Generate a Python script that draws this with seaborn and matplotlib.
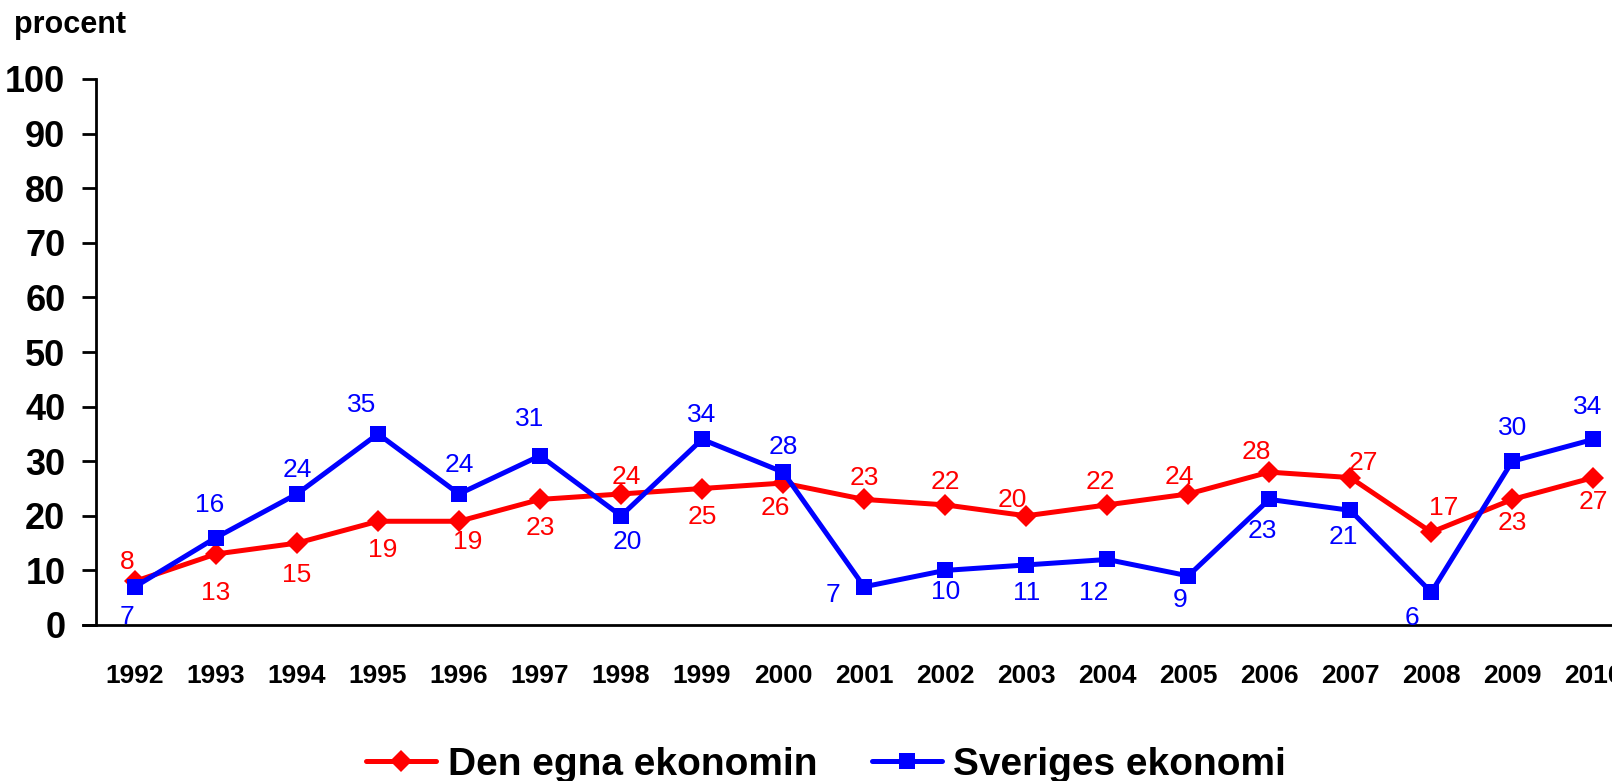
import numpy as np
import pandas as pd
import matplotlib
matplotlib.use("Agg")
import matplotlib.pyplot as plt
import seaborn as sns

# data
years = [str(y) for y in range(1992, 2011)]
egna = [8, 13, 15, 19, 19, 23, 24, 25, 26, 23, 22, 20, 22, 24, 28, 27, 17, 23, 27]
sverige = [7, 16, 24, 35, 24, 31, 20, 34, 28, 7, 10, 11, 12, 9, 23, 21, 6, 30, 34]
y_ticks = [0, 10, 20, 30, 40, 50, 60, 70, 80, 90, 100]

# label offsets in pixels (dx, dy downward) so the numbers sit like in the original
egna_off = [(-8, -19), (0, 39), (0, 32), (5, 29), (9, 21), (0, 29), (5, -17), (0, 29),
            (-8, 25), (0, -21), (0, -23), (-14, -16), (-7, -23), (-9, -17), (-13, -20),
            (13, -15), (12, -24), (0, 24), (0, 24)]
sverige_off = [(-8, 30), (-6, -33), (0, -24), (-16, -29), (0, -29), (-10, -37), (6, 26),
               (0, -24), (0, -25), (-31, 8), (0, 22), (0, 28), (-14, 34), (-8, 24),
               (-7, 32), (-7, 27), (-19, 26), (0, -33), (-6, -32)]

sns.set_style("white")
plt.rcParams['font.family'] = ['Liberation Sans', 'DejaVu Sans']
plt.rcParams['text.color'] = 'black'
plt.rcParams['xtick.color'] = 'black'
plt.rcParams['ytick.color'] = 'black'

fig = plt.figure(figsize=(16.12, 7.81), dpi=100)
ax = fig.add_axes([96 / 1612, 1 - 625 / 781, 1 - 96 / 1612, (625 - 79) / 781])

x = np.arange(len(years))
sns.lineplot(x=x, y=egna, ax=ax, color='#ff0000', marker='D', markersize=11,
             markeredgewidth=0, linewidth=3.6, label='Den egna ekonomin', legend=False)
sns.lineplot(x=x, y=sverige, ax=ax, color='#0000ff', marker='s', markersize=12,
             markeredgewidth=0, linewidth=3.6, label='Sveriges ekonomi', legend=False)

for xi, v, (dx, dy) in zip(x, egna, egna_off):
    ax.annotate(str(v), (xi, v), xytext=(dx, -dy), textcoords='offset pixels',
                ha='center', va='center', color='#ff0000', fontsize=19)
for xi, v, (dx, dy) in zip(x, sverige, sverige_off):
    ax.annotate(str(v), (xi, v), xytext=(dx, -dy), textcoords='offset pixels',
                ha='center', va='center', color='#0000ff', fontsize=19)

ax.set_xlim(-0.48, 18.23)
ax.set_ylim(0, 100)
ax.set_yticks(y_ticks)
ax.set_yticklabels([str(t) for t in y_ticks], fontsize=26, fontweight='bold')
ax.set_xticks(x)
ax.set_xticklabels(years, fontsize=19, fontweight='bold')
ax.tick_params(axis='y', direction='out', length=10, width=2, pad=12, left=True)
ax.tick_params(axis='x', length=0, pad=28)
for s in ['top', 'right']:
    ax.spines[s].set_visible(False)
for s in ['left', 'bottom']:
    ax.spines[s].set_color('black')
    ax.spines[s].set_linewidth(2)
ax.spines['bottom'].set_bounds(-0.48 - 13 / 81, 18.23)
ax.spines['bottom'].set_clip_on(False)

fig.text(14 / 1612, 1 - 25 / 781, 'procent', fontsize=22, fontweight='bold', va='center', ha='left')

handles, labels = ax.get_legend_handles_labels()
fig.legend(handles, labels, loc='center', bbox_to_anchor=(826 / 1612, 1 - 765 / 781), ncol=2,
           frameon=False, handlelength=1.8, columnspacing=1.4, handletextpad=0.3,
           borderpad=0, prop={'weight': 'bold', 'size': 28})

fig.savefig('out.png', dpi=100)
